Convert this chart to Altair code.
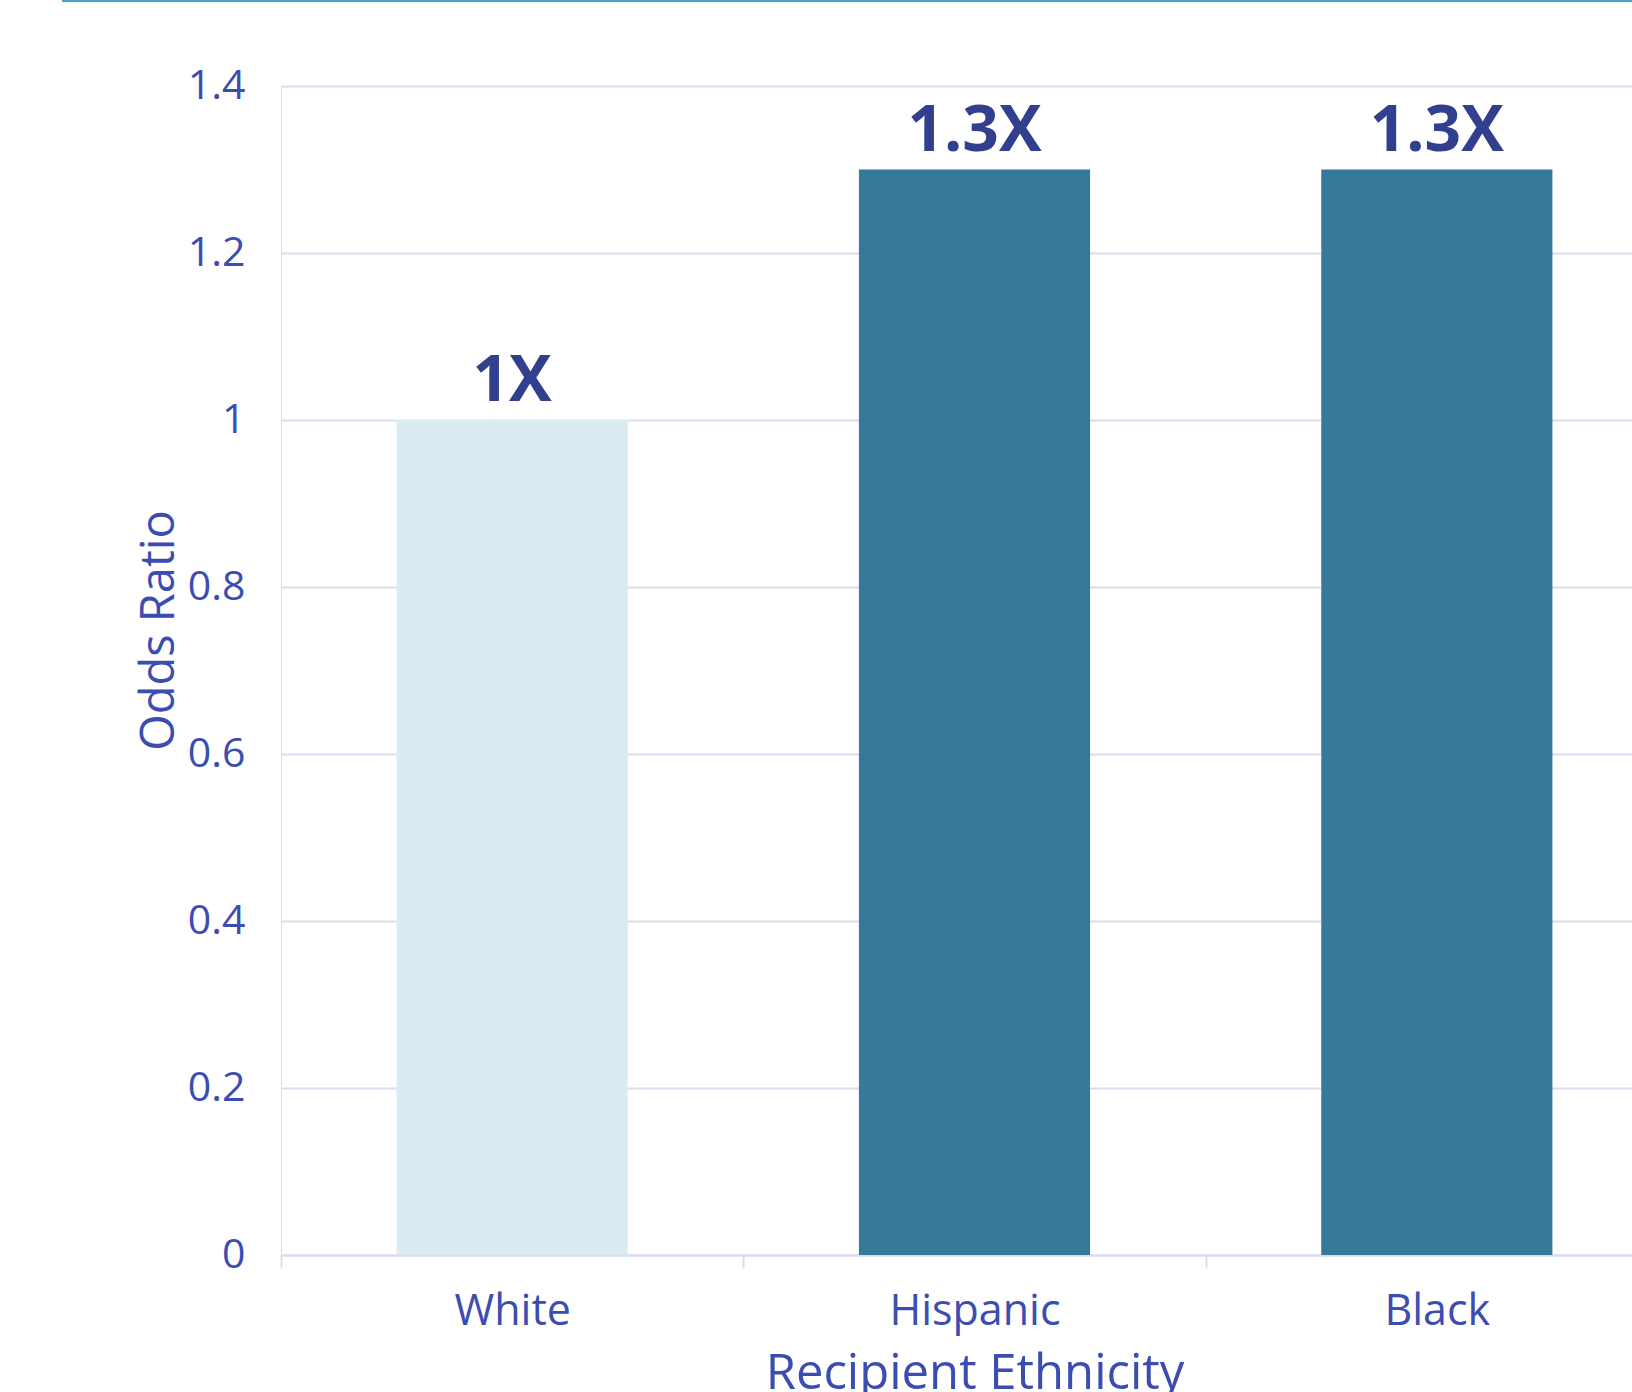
import altair as alt
import pandas as pd

categories = ["White", "Hispanic", "Black"]
odds_ratio = [1.0, 1.3, 1.3]
bar_labels = ["1X", "1.3X", "1.3X"]
group = ["Reference", "Comparison", "Comparison"]
y_ticks = [0, 0.2, 0.4, 0.6, 0.8, 1.0, 1.2, 1.4]

df = pd.DataFrame({"Ethnicity": categories, "OR": odds_ratio,
                   "Label": bar_labels, "Group": group})

FONT = "Open Sans"
LABEL_BLUE = "#3c4db1"
DARK_BLUE = "#323f8f"
GRID = "#dcdcee"

W, H = 1351, 1169

x = alt.X("Ethnicity:N", sort=categories,
          scale=alt.Scale(range=[0, 1387], paddingInner=0, paddingOuter=0),
          axis=alt.Axis(title="Recipient Ethnicity", labelAngle=0, grid=False,
                        tickBand="extent", tickSize=13, tickColor=GRID,
                        domainColor=GRID, domainWidth=2, tickWidth=2,
                        labelFont=FONT, labelFontSize=43, labelColor=LABEL_BLUE,
                        labelBaseline="alphabetic", labelPadding=56,
                        titleFont=FONT, titleFontSize=49, titleFontWeight="normal",
                        titleColor=LABEL_BLUE, titleBaseline="alphabetic",
                        titleY=133))

y = alt.Y("OR:Q", scale=alt.Scale(domain=[0, 1.4], nice=False),
          axis=alt.Axis(title="Odds Ratio", values=y_ticks, format="~g",
                        domain=False, ticks=False, gridColor=GRID, gridWidth=2,
                        labelFont=FONT, labelFontSize=41, labelColor=LABEL_BLUE,
                        labelPadding=36,
                        titleFont=FONT, titleFontSize=47, titleFontWeight="normal",
                        titleColor=LABEL_BLUE, titleAngle=270,
                        titleBaseline="alphabetic", titleAlign="center",
                        titleX=-108, titleY=544))

bars = alt.Chart(df).mark_bar(width=alt.RelativeBandSize(0.5)).encode(
    x=x, y=y,
    color=alt.Color("Group:N", scale=alt.Scale(domain=["Reference", "Comparison"],
                                               range=["#dbebf2", "#357a98"]),
                    legend=None),
)

text = alt.Chart(df).mark_text(font=FONT, fontSize=64, fontWeight="bold",
                               color=DARK_BLUE, baseline="alphabetic", dy=-19).encode(
    x=alt.X("Ethnicity:N", sort=categories), y="OR:Q", text="Label:N")

top_line = alt.Chart(df).mark_rule(color="#4ba5c8", strokeWidth=2).encode(
    x=alt.value(-219), x2=alt.value(W), y=alt.value(-85))

chart = alt.layer(bars, text, top_line).properties(
    width=W, height=H,
    autosize=alt.AutoSizeParams(type="none"),
    padding={"left": 281, "top": 86, "right": 0, "bottom": 137},
).configure_view(stroke="transparent", strokeWidth=0).configure(background="white")

chart.save("out.html", embed_options={"renderer": "svg", "actions": False})
